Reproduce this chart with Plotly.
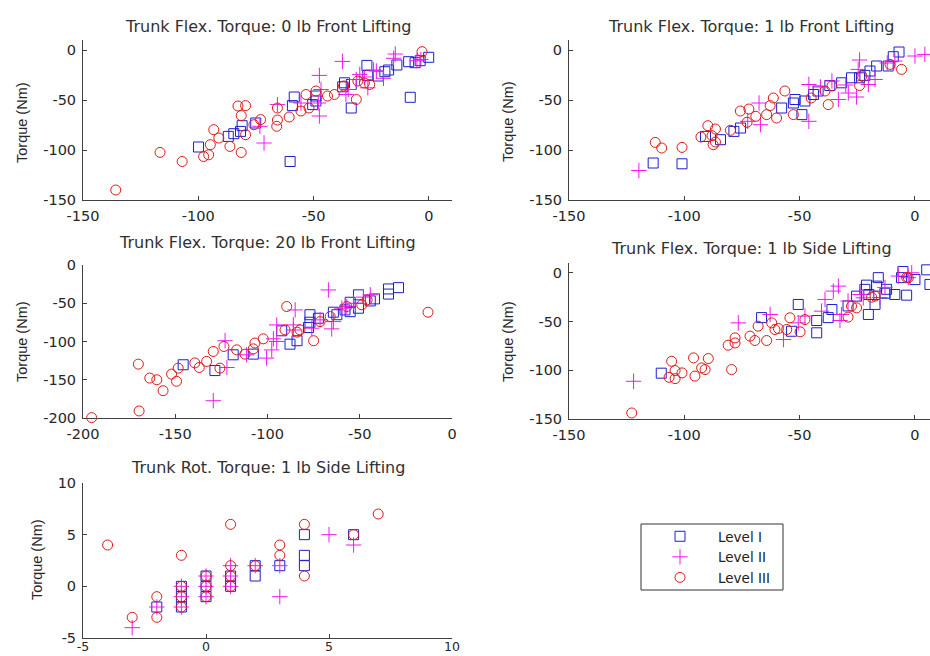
import plotly.graph_objects as go

W, H = 930, 656

# ---------------- data ----------------
titles = ["Trunk Flex. Torque: 0 lb Front Lifting",
          "Trunk Flex. Torque: 1 lb Front Lifting",
          "Trunk Flex. Torque: 20 lb Front Lifting",
          "Trunk Flex. Torque: 1 lb Side Lifting",
          "Trunk Rot. Torque: 1 lb Side Lifting"]
level_names = ["Level I", "Level II", "Level III"]

# subplot 1: 0 lb front
s1_l1_x = [-0.1, -3.8, -6, -8.8, -13.9, -17.5, -19.1, -8.1, -22, -26.9, -26.5, -33.7, -36.6, -37.4, -33.7,
           -49, -49, -50.4, -58.4, -59.2, -60.2, -75.1, -81, -81.7, -84.6, -87, -99.9]
s1_l1_y = [-7.3, -10.7, -12.7, -11.7, -15, -20, -21.7, -47.3, -26, -15.4, -25.4, -34.5, -32.8, -36.8, -58,
           -46, -51, -54.6, -47, -55.6, -111.5, -73, -75.7, -81.4, -83.7, -86.4, -97]
s1_l2_x = [-14.6, -15.3, -5.2, -3.5, -37.5, -19.7, -22.8, -30, -31.5, -26.5, -35, -36, -47.5, -46.8, -48,
           -47.5, -55.5, -65.7, -73.3, -71.5, -28, -24]
s1_l2_y = [-4, -8.3, -10.7, -9.5, -11.4, -28.3, -21, -24.4, -29.5, -37.8, -39.5, -44.5, -25.4, -39.5, -53,
           -66, -53, -54.6, -76.3, -93, -27, -20]
s1_l3_x = [-3, -25.7, -30.8, -31.5, -41, -44, -49, -53.3, -55.5, -52, -60.6, -65.7, -65.7, -66, -73, -75.9,
           -79.5, -82.8, -81.4, -79.5, -81.4, -86.3, -91.1, -93.3, -94.8, -95.5, -97.7, -107, -116.6, -135.8,
           -37, -28]
s1_l3_y = [-1.7, -34.5, -31, -49.5, -44.5, -46, -41, -44.5, -61, -58, -67, -58, -70, -76.3, -69.6, -74.7,
           -55.6, -56, -65.6, -84.7, -102.4, -96.4, -88, -79.7, -94.7, -104.8, -106.5, -111.5, -102.4, -140,
           -36, -33]

# subplot 2: 1 lb front
s2_l1_x = [-6.9, -9.4, -11.6, -16.6, -19.5, -21.7, -24, -27.5, -31.8, -36.9, -42, -44, -47.7, -52, -52.7,
           -49, -57.8, -75.6, -78.5, -84.3, -90.8, -101, -113.5]
s2_l1_y = [-2, -6.7, -16, -16, -21, -25.4, -27.8, -27.8, -32.8, -35.5, -41, -44.5, -51, -49.5, -53,
           -64.6, -58, -78, -81.4, -89.7, -86.4, -113.8, -113]
s2_l2_x = [0, 4.3, -8.7, -24, -24.6, -17.3, -20.2, -28.9, -25.3, -33.2, -36, -46, -41, -46, -67, -67.6,
           -72.5, -119.7, -12, -30]
s2_l2_y = [-6, -4.4, -11, -10, -19.4, -29.5, -34.5, -43, -47, -49.5, -31, -34.5, -37, -71.3, -74.7, -53,
           -71.3, -120.5, -13, -35]
s2_l3_x = [-5.8, -10.8, -24, -23, -36, -37.6, -39, -45, -52.7, -56.4, -61.4, -60, -64.3, -62.8, -69, -72,
           -75.7, -72.8, -80, -86.5, -89.8, -88, -92.8, -87.5, -86.5, -101, -109.8, -112.6]
s2_l3_y = [-19.4, -14.4, -35.5, -26, -36, -54.6, -41, -48, -64.6, -41, -48, -68, -64.6, -55.6, -66.3, -59,
           -61, -72.3, -80.3, -79, -75.7, -85.7, -87, -94.7, -92, -97.4, -98, -92.4]

# subplot 3: 20 lb front
s3_l1_x = [-29, -34.4, -34.4, -42, -44.3, -50.7, -50.7, -55.2, -55.2, -58, -62.4, -64.3, -72.4, -77, -77,
           -77.8, -84, -87.8, -92.3, -107.7, -118.6, -128.5, -145.7]
s3_l1_y = [-29.6, -31.3, -38, -44.3, -47, -39, -56.5, -48.7, -61, -58.7, -65, -61.7, -69.6, -65, -74.8,
           -81.7, -99, -103.5, -86, -116.5, -117.4, -138, -130.4]
s3_l2_x = [-44.3, -67, -53.4, -57, -59.7, -64.3, -65.2, -71.5, -76, -85, -86, -86, -95, -95, -96.8, -97.7,
           -100.5, -111.3, -122, -123, -129.4, -48]
s3_l2_y = [-39, -32.6, -50, -54.3, -56.5, -74, -83.5, -71.7, -82.6, -58.7, -78.3, -85, -78.3, -100, -96.5,
           -111, -121.7, -117.4, -134, -99, -177.4, -42]
s3_l3_x = [-13, -46, -48.9, -57, -66, -71.5, -75, -82.4, -84, -89.6, -90.5, -102.3, -106.8, -107.7, -112.2,
           -116.7, -123.6, -125.8, -129.4, -133, -137, -139.4, -148.4, -149.3, -152, -156.6, -160, -163.8,
           -170, -169.6, -195.3]
s3_l3_y = [-61.7, -45.6, -52, -54.3, -67.4, -74, -99, -84.8, -87.8, -54.3, -84.8, -96.5, -102, -109.6, -116.5,
           -110.9, -106.5, -134.8, -113, -126, -134, -128, -134.8, -152, -142.6, -164.3, -150, -147.8,
           -129.6, -190.8, -199.5]

# subplot 4: 1 lb side (flexion)
s4_l1_x = [5.1, 6.5, 0, -5.2, -3.6, -5.8, -15.9, -16.6, -21, -20, -21.7, -12.3, -13, -8.7, -17.3, -20.2, -25.3,
           -29, -36, -37.6, -42.6, -42.6, -50.6, -53.5, -66.5, -110]
s4_l1_y = [3, -12, -7, 1.3, -23, -5, -5, -13.7, -12.7, -22.3, -17, -17, -21, -22.3, -32.5, -42.8, -24,
           -34, -37.7, -46, -49, -61.6, -32.5, -60, -46, -103]
s4_l2_x = [-7.2, -2.9, -1.4, -13, -15.2, -33.2, -35.4, -39, -40.5, -31.8, -32.5, -47.7, -50.6, -57, -62.8,
           -29, -23.8, -22.4, -76.6, -122]
s4_l2_y = [-3.4, -5, 0, -15, -25.4, -13.7, -18.8, -27.4, -39.4, -42.8, -49, -44.5, -51.4, -68.5, -42.8,
           -29, -22.3, -25.7, -51.4, -111.3]
s4_l3_x = [-3.6, -2.9, -17.3, -18.8, -25.3, -27.5, -29, -47.7, -49.8, -54.2, -55.6, -59.2, -62.1, -60.7,
           -64.3, -68, -69.4, -71.5, -78, -78, -81, -79.5, -89.6, -92.5, -91, -96, -95.4, -101, -104, -105.5,
           -104, -106.6, -122.8]
s4_l3_y = [-4.8, -5.1, -24, -25, -36, -34.2, -45.5, -48, -60.6, -46.2, -58.2, -57.2, -51.4, -58.2, -69.5,
           -54.8, -69.5, -65, -66.8, -72, -74.3, -99.3, -88, -97.6, -99.3, -87.3, -106, -102.7, -100.3, -90.8,
           -108.6, -107.2, -143.8]

# subplot 5: rotation, 1 lb side
s5_l1_x = [-2, -1, -1, -1, 0, 0, 0, 1, 1, 2, 2, 3, 4, 4, 4, 6]
s5_l1_y = [-2, 0, -1, -2, 1, 0, -1, 1, 0, 2, 1, 2, 5, 3, 2, 5]
s5_l2_x = [-3, -2, -1, -1, -1, 0, 0, 0, 1, 1, 1, 2, 3, 3, 5, 6]
s5_l2_y = [-4, -2, 0, -1, -2, 1, 0, -1, 2, 1, 0, 2, 2, -1, 5, 4]
s5_l3_x = [-4, -3, -2, -2, -1, -1, -1, -1, 0, 0, 0, 1, 1, 1, 1, 2, 3, 3, 4, 4, 6, 7]
s5_l3_y = [4, -3, -1, -3, 3, 0, -1, -2, 1, 0, -1, 6, 2, 1, 0, 2, 4, 3, 6, 1, 5, 7]

# tick values / labels
ticks_150 = [-150, -100, -50, 0]
ticks_200 = [-200, -150, -100, -50, 0]
ticks_rot = [-5, 0, 5, 10]

# ---------------- figure ----------------
BLUE, MAG, RED = "#1e1ed2", "#f018f0", "#e01818"
styles = [dict(symbol="square-open", color=BLUE, size=10),
          dict(symbol="cross-thin-open", color=MAG, size=11),
          dict(symbol="circle-open", color=RED, size=10)]

panels = [
    ([s1_l1_x, s1_l2_x, s1_l3_x], [s1_l1_y, s1_l2_y, s1_l3_y]),
    ([s2_l1_x, s2_l2_x, s2_l3_x], [s2_l1_y, s2_l2_y, s2_l3_y]),
    ([s3_l1_x, s3_l2_x, s3_l3_x], [s3_l1_y, s3_l2_y, s3_l3_y]),
    ([s4_l1_x, s4_l2_x, s4_l3_x], [s4_l1_y, s4_l2_y, s4_l3_y]),
    ([s5_l1_x, s5_l2_x, s5_l3_x], [s5_l1_y, s5_l2_y, s5_l3_y]),
]

fig = go.Figure()
for p, (xs, ys) in enumerate(panels):
    suffix = "" if p == 0 else str(p + 1)
    for k in range(3):
        st = styles[k]
        fig.add_trace(go.Scatter(
            x=xs[k], y=ys[k], mode="markers",
            name=level_names[k], legendgroup=level_names[k], showlegend=(p == 0),
            xaxis="x" + suffix, yaxis="y" + suffix, cliponaxis=False,
            marker=dict(symbol=st["symbol"], size=st["size"], color=st["color"],
                        line=dict(width=1, color=st["color"])),
        ))

# pixel geometry of each axes box: (left, right, top, bottom) in px, plus ranges
LX0, LX1 = 83, 452
RX0 = 569
RIGHT_X = [-150, -150 + 160 * (W - RX0) / 369.0]
boxes = [
    dict(l=LX0, r=LX1, t=40, b=200, xr=[-150, 10], yr=[-150, 10], xt=ticks_150, yt=ticks_150),
    dict(l=RX0, r=W, t=40, b=200, xr=RIGHT_X, yr=[-150, 10], xt=ticks_150, yt=ticks_150),
    dict(l=LX0, r=LX1, t=265, b=418, xr=[-200, 0], yr=[-200, 0], xt=ticks_200, yt=ticks_200),
    dict(l=RX0, r=W, t=263, b=419, xr=RIGHT_X, yr=[-150, 10], xt=ticks_150, yt=ticks_150),
    dict(l=LX0, r=LX1, t=483, b=638, xr=[-5, 10], yr=[-5, 10], xt=ticks_rot, yt=ticks_rot),
]

AXC = "#404040"
TICKFONT = dict(family="DejaVu Sans", size=14.5, color="#262626")
layout = dict(width=W, height=H, margin=dict(l=0, r=0, t=0, b=0, autoexpand=False),
              paper_bgcolor="white", plot_bgcolor="white", showlegend=True)
for p, bx in enumerate(boxes):
    suffix = "" if p == 0 else str(p + 1)
    common = dict(showline=True, linecolor=AXC, linewidth=1, ticks="inside", ticklen=4,
                  tickcolor=AXC, tickwidth=1, showgrid=False, zeroline=False, automargin=False,
                  tickfont=TICKFONT, ticklabelstandoff=3)
    xax = dict(common, domain=[bx["l"] / W, bx["r"] / W], range=bx["xr"],
               anchor="y" + suffix, tickvals=bx["xt"], ticktext=[str(v) for v in bx["xt"]])
    if p == 4:  # bottom panel: keep its tick labels inside the page
        xax["ticklabelstandoff"] = -3
        xax["tickfont"] = dict(TICKFONT, size=12.5)
    layout["xaxis" + suffix] = xax
    layout["yaxis" + suffix] = dict(common, domain=[1 - bx["b"] / H, 1 - bx["t"] / H], range=bx["yr"],
                                    anchor="x" + suffix, tickvals=bx["yt"],
                                    ticktext=[str(v) for v in bx["yt"]])
fig.update_layout(**layout)

# titles and y-axis labels
title_pos = [(267.5, 27), (751, 26), (267.5, 242), (751, 248), (267.5, 467)]
ylab_pos = [(22, 123), (508, 122), (22, 342), (508, 342), (37, 560)]
for p in range(5):
    tx, ty = title_pos[p]
    fig.add_annotation(text=titles[p], x=tx / W, y=1 - ty / H, xref="paper", yref="paper",
                       xanchor="center", yanchor="middle", showarrow=False,
                       font=dict(family="DejaVu Sans", size=16, color="#303030"))
    lx, ly = ylab_pos[p]
    fig.add_annotation(text="Torque (Nm)", x=lx / W, y=1 - ly / H, xref="paper", yref="paper",
                       xanchor="center", yanchor="middle", showarrow=False, textangle=-90,
                       font=dict(family="Liberation Sans", size=14.5, color="#262626"))

# legend: frame drawn as a shape, entries by the legend itself
fig.add_shape(type="rect", xref="paper", yref="paper",
              x0=641 / W, x1=783 / W, y0=1 - 590 / H, y1=1 - 524 / H,
              line=dict(color="#333333", width=1), fillcolor="white", layer="below")
fig.update_layout(legend=dict(x=642 / W, y=1 - 521 / H, xanchor="left", yanchor="top",
                              bgcolor="rgba(0,0,0,0)", borderwidth=0,
                              itemwidth=66, tracegroupgap=0,
                              font=dict(family="DejaVu Sans", size=13.5, color="#222222")))

fig.write_html("out.html")
